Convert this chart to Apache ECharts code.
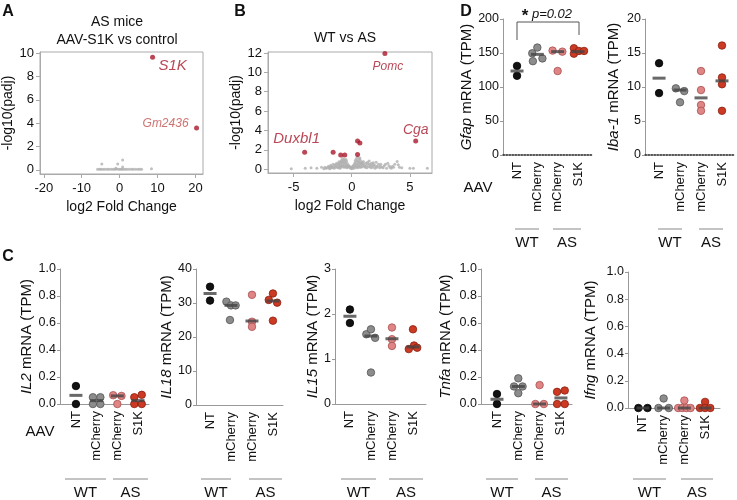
<!DOCTYPE html>
<html>
<head>
<meta charset="utf-8">
<script src="https://cdn.jsdelivr.net/npm/echarts@6/dist/echarts.min.js"></script>
<style>html,body{margin:0;background:#fff}#main{width:737px;height:500px}</style>
</head>
<body>
<div id="main"></div>
<script>
// ---- volcano A : AS mice, AAV-S1K vs control ----
const aHits = [[8.7, 9.66, 'S1K'], [20.3, 3.6, 'Gm2436']];
const aGray = [[-5.8,0.05],[-5.3,0.06],[-4.9,0.05],[-4.4,0.05],[-3.9,0.06],[-3.3,0.05],[-2.8,0.05],[-2.2,0.06],[-1.7,0.05],
  [-1.2,0.05],[-0.8,0.07],[-0.3,0.05],[0.1,0.06],[0.5,0.05],[0.9,0.06],[1.4,0.05],[1.9,0.05],[2.5,0.06],[3.1,0.05],
  [3.6,0.05],[4.2,0.06],[4.8,0.05],[5.3,0.05],[5.8,0.06],[-4.7,0.5],[-0.5,0.5],[0.8,0.85],[0.8,0.25],[-1.0,0.15],[8.4,0.1]];

// ---- volcano B : WT vs AS ----
const bHits = [[2.85, 11.95, 'Pomc'], [5.5, 2.9, 'Cga'], [-4.05, 1.75, 'Duxbl1'], [-1.6, 1.75, ''], [-0.95, 1.45, ''],
  [-0.6, 1.45, ''], [0.5, 1.5, ''], [0.5, 2.9, ''], [0.7, 2.7, '']];
const bGray = [[-5.2,0.05],[-4.0,0.1],[-3.5,0.15],[-3.0,0.1],[-2.6,0.2],[-2.2,0.1],[-2.0,0.3],[-1.9,0.05],[-1.8,0.4],
  [-1.7,0.2],[-1.6,0.5],[-1.5,0.1],[-1.4,0.35],[-1.3,0.6],[-1.2,0.2],[-1.1,0.75],[-1.0,0.45],[-1.0,0.1],[-0.9,0.9],
  [-0.9,0.3],[-0.8,1.1],[-0.8,0.6],[-0.7,0.2],[-0.7,0.95],[-0.6,0.5],[-0.6,0.8],[-0.5,0.3],[-0.5,1.0],[-0.4,0.6],
  [-0.4,0.15],[-0.3,0.4],[-0.2,0.2],[-0.1,0.1],[0.0,0.05],[0.1,0.15],[0.2,0.3],[0.25,0.6],[0.3,0.9],[0.35,0.2],
  [0.4,1.1],[0.45,0.5],[0.5,1.25],[0.55,0.8],[0.6,0.3],[0.65,1.05],[0.7,0.6],[0.75,0.9],[0.8,0.2],[0.85,0.7],
  [0.9,0.45],[1.0,0.8],[1.1,0.3],[1.2,0.6],[1.3,0.15],[1.4,0.5],[1.5,0.85],[1.6,0.3],[1.7,0.6],[1.8,0.2],[1.9,0.45],
  [2.0,0.1],[2.1,0.7],[2.2,0.3],[2.4,0.15],[2.5,0.5],[2.6,0.2],[2.8,0.35],[3.0,0.1],[3.1,0.6],[3.3,0.2],[3.5,0.3],
  [3.7,0.5],[3.9,0.8],[4.1,0.2],[4.3,0.15],[5.0,0.1],[5.3,0.1],[6.5,0.1],
  [-2.4,0.05],[-2.3,0.2],[-2.1,0.15],[-1.95,0.2],[-1.85,0.1],[-1.75,0.3],[-1.65,0.15],[-1.55,0.25],[-1.45,0.45],
  [-1.35,0.2],[-1.25,0.4],[-1.15,0.5],[-1.15,0.15],[-1.05,0.3],[-1.05,0.6],[-0.95,0.2],[-0.95,0.7],[-0.85,0.4],
  [-0.85,0.8],[-0.75,0.35],[-0.75,0.7],[-0.65,0.3],[-0.65,1.0],[-0.55,0.2],[-0.55,0.65],[-0.45,0.4],[-0.45,0.85],
  [-0.35,0.25],[-0.25,0.35],[-0.15,0.25],[-0.05,0.2],[0.05,0.25],[0.15,0.4],[0.2,0.1],[0.3,0.45],[0.35,0.7],[0.4,0.3],
  [0.45,0.9],[0.5,0.15],[0.55,0.45],[0.6,0.7],[0.65,0.2],[0.7,1.15],[0.75,0.4],[0.8,0.6],[0.9,0.25],[0.95,0.6],
  [1.05,0.45],[1.15,0.2],[1.25,0.35],[1.35,0.7],[1.45,0.25],[1.55,0.5],[1.65,0.15],[1.75,0.4],[1.85,0.65],[2.0,0.35],
  [2.15,0.2],[2.3,0.5],[2.45,0.3],[2.7,0.15],[2.9,0.5],[3.2,0.35],[3.4,0.1],[3.6,0.2],[4.0,0.45]];

// ---- TPM dot plots (groups: WT NT, WT mCherry, AS mCherry, AS S1K) ----
const aavGroups = ['NT', 'mCherry', 'mCherry', 'S1K'];

const gfapTPM = [[131, 116.5], [158, 149.5, 142, 138], [153.5, 152, 123.5], [157, 149, 153, 153]];
const gfapMid = [123.5, 148, 152, 152];
const gfapJit = [[0, 0], [0, -0.25, 0.25, -0.22], [-0.25, 0.23, 0], [-0.2, -0.2, 0.05, 0.3]];

const iba1TPM = [[13.5, 9.1], [9.8, 9.4, 7.75], [12.35, 9.55, 7.35, 6.5], [16.1, 11.4, 10.4, 6.5]];
const iba1Mid = [11.3, 9.55, 8.4, 10.9];
const iba1Jit = [[0, 0], [-0.2, 0.2, 0], [0, 0, 0, 0], [0, 0, 0, 0]];

const il2TPM = [[0.133, 0], [0.05, 0.05, 0, 0], [0.065, 0.06, 0], [0.05, 0.068, 0, 0]];
const il2Mid = [0.064, 0.025, 0.06, 0.025];
const il2Jit = [[0, 0], [-0.18, 0.18, -0.18, 0.18], [-0.2, 0.2, 0], [-0.18, 0.18, -0.18, 0.18]];

const il18TPM = [[34.8, 30.7], [30.4, 29.3, 29.3, 25.0], [32.4, 24.5, 23.0], [32.8, 30.9, 30.1, 24.8]];
const il18Mid = [32.8, 29.3, 24.7, 30.6];
const il18Jit = [[0, 0], [-0.22, 0, 0.22, -0.05], [0, 0, 0], [0, -0.2, 0.2, 0]];

const il15TPM = [[2.1, 1.8], [1.55, 1.66, 1.47, 0.70], [1.70, 1.44, 1.29], [1.66, 1.30, 1.22, 1.25]];
const il15Mid = [1.95, 1.51, 1.45, 1.27];
const il15Jit = [[0, 0], [-0.22, 0, 0.2, 0], [0, 0, 0], [0, 0.05, -0.2, 0.2]];

const tnfaTPM = [[0.074, 0], [0.19, 0.13, 0.13, 0.08], [0.14, 0, 0], [0.09, 0.10, 0, 0]];
const tnfaMid = [0.035, 0.13, 0, 0.045];
const tnfaJit = [[0, 0], [0, -0.2, 0.2, 0], [0, -0.2, 0.2], [-0.18, 0.18, -0.18, 0.18]];

const ifngTPM = [[0, 0], [0.07, 0, 0], [0.055, 0, 0, 0, 0], [0.045, 0, 0, 0]];
const ifngMid = [0, 0, 0, 0];
const ifngJit = [[-0.22, 0.22], [0, -0.25, 0.25], [0, -0.3, -0.1, 0.1, 0.3], [0, -0.25, 0, 0.25]];

const FONT = '"Liberation Sans", Arial, sans-serif';
const fill = ['#111111', '#8c8c8c', '#e08585', '#cc3a24'];
const edge = ['#000000', '#555555', '#a85050', '#8a2010'];
const hitRed = '#a8192c';

let grids = [], xAxes = [], yAxes = [], series = [];

// volcano plot in a box
function volcano(k, box, xr, yr, xt, yt, hits, gray, labelPos) {
  grids.push(Object.assign({show: true, borderColor: '#aaa', borderWidth: 1, outerBoundsMode: 'none'}, box));
  xAxes.push({gridIndex: k, type: 'value', min: xr[0], max: xr[1], name: 'log2 Fold Change', nameLocation: 'middle', nameGap: 26,
    nameTextStyle: {fontFamily: FONT, fontSize: 14, color: '#111'},
    axisLine: {onZero: false, lineStyle: {color: '#aaa'}}, splitLine: {show: false},
    axisTick: {customValues: xt, length: 4, lineStyle: {color: '#aaa'}},
    axisLabel: {customValues: xt, fontFamily: FONT, fontSize: 13, color: '#111', margin: 8}});
  yAxes.push({gridIndex: k, type: 'value', min: yr[0], max: yr[1], name: '-log10(padj)', nameLocation: 'middle', nameGap: 24, nameRotate: 90,
    nameTextStyle: {fontFamily: FONT, fontSize: 14, color: '#111'},
    axisLine: {onZero: false, lineStyle: {color: '#aaa'}}, splitLine: {show: false},
    axisTick: {customValues: yt, length: 4, lineStyle: {color: '#aaa'}},
    axisLabel: {customValues: yt, fontFamily: FONT, fontSize: 13, color: '#111', margin: 6}});
  series.push({type: 'scatter', xAxisIndex: k, yAxisIndex: k, symbolSize: 3, silent: true,
    itemStyle: {color: '#b0b0b0'}, data: gray});
  series.push({type: 'scatter', xAxisIndex: k, yAxisIndex: k, symbolSize: 5, itemStyle: {color: hitRed},
    data: hits.map(h => ({value: [h[0], h[1]], label: labelPos[h[2]] ? Object.assign({show: true, formatter: h[2],
      position: 'inside', fontFamily: FONT, fontStyle: 'italic'}, labelPos[h[2]]) : {show: false}}))});
}

// TPM dot panel
function dotPanel(k, p) {
  grids.push({left: p.left, top: p.top, width: p.width, height: p.height, outerBoundsMode: 'none'});
  xAxes.push({gridIndex: k, type: 'value', min: p.xMin, max: p.xMax, splitLine: {show: false}, axisTick: {show: false},
    axisLine: {onZero: false, lineStyle: p.dotted ? {color: '#222', type: 'dotted', width: 1.5} : {color: '#999'}},
    axisLabel: {customValues: [1, 2, 3, 4], formatter: v => aavGroups[v - 1], rotate: 90,
      fontFamily: FONT, fontSize: 13, color: '#111', margin: 7}});
  yAxes.push({gridIndex: k, type: 'value', min: 0, max: p.yMax, interval: p.yStep,
    name: '{i|' + p.gene + '} mRNA (TPM)', nameLocation: 'middle', nameGap: p.nameGap, nameRotate: 90,
    nameTextStyle: {fontFamily: FONT, fontSize: 15, color: '#111',
      rich: {i: {fontFamily: FONT, fontSize: 15, fontStyle: 'italic', color: '#111'}}},
    axisLine: {show: true, lineStyle: {color: '#999'}}, axisTick: {show: true, length: 3, lineStyle: {color: '#999'}},
    splitLine: {show: false},
    axisLabel: {fontFamily: FONT, fontSize: 12.5, color: '#111', margin: 4, formatter: v => v.toFixed(p.dec)}});
  p.values.forEach((vals, g) => series.push({type: 'scatter', xAxisIndex: k, yAxisIndex: k, symbolSize: 7.5,
    itemStyle: {color: fill[g], borderColor: edge[g], borderWidth: 0.8, opacity: 1},
    data: vals.map((v, i) => [g + 1 + p.jit[g][i], v])}));
  series.push({type: 'scatter', xAxisIndex: k, yAxisIndex: k, symbol: 'rect', symbolSize: [13, 3], z: 3,
    itemStyle: {color: '#444'}, data: p.mid.map((v, g) => [g + 1, v])});
}

volcano(0, {left: 40, top: 52, width: 163, height: 122}, [-21, 22], [-0.35, 10.1], [-20, -10, 0, 10, 20], [0, 2, 4, 6, 8, 10],
  aHits, aGray, {
    'S1K': {offset: [20, 9], fontSize: 15, color: hitRed},
    'Gm2436': {offset: [-31, -4], fontSize: 12, color: '#c0504d'}
  });
volcano(1, {left: 268, top: 52, width: 164, height: 121}, [-7.2, 6.9], [-0.4, 12.1], [-5, 0, 5], [0, 2, 4, 6, 8, 10, 12],
  bHits, bGray, {
    'Pomc': {offset: [3, 13], fontSize: 12, color: hitRed},
    'Cga': {offset: [0, -11], fontSize: 14, color: hitRed},
    'Duxbl1': {offset: [-8, -13], fontSize: 15, color: hitRed}
  });

dotPanel(2, {gene: 'Gfap', values: gfapTPM, mid: gfapMid, jit: gfapJit, left: 503, top: 19, width: 90, height: 136,
  xMin: 0.31, xMax: 4.74, yMax: 200, yStep: 50, dec: 0, nameGap: 29, dotted: true});
dotPanel(3, {gene: 'Iba-1', values: iba1TPM, mid: iba1Mid, jit: iba1Jit, left: 645, top: 19, width: 90, height: 136,
  xMin: 0.33, xMax: 4.62, yMax: 20, yStep: 5, dec: 0, nameGap: 24, dotted: true});
dotPanel(4, {gene: 'IL2', values: il2TPM, mid: il2Mid, jit: il2Jit, left: 60, top: 269, width: 89, height: 135,
  xMin: 0.23, xMax: 4.53, yMax: 1, yStep: 0.2, dec: 1, nameGap: 25});
dotPanel(5, {gene: 'IL18', values: il18TPM, mid: il18Mid, jit: il18Jit, left: 196, top: 269, width: 87, height: 136,
  xMin: 0.33, xMax: 4.48, yMax: 40, yStep: 10, dec: 0, nameGap: 18});
dotPanel(6, {gene: 'IL15', values: il15TPM, mid: il15Mid, jit: il15Jit, left: 335, top: 269, width: 91, height: 135,
  xMin: 0.29, xMax: 4.62, yMax: 3, yStep: 1, dec: 0, nameGap: 14});
dotPanel(7, {gene: 'Tnfa', values: tnfaTPM, mid: tnfaMid, jit: tnfaJit, left: 481, top: 269, width: 91, height: 135,
  xMin: 0.25, xMax: 4.52, yMax: 1, yStep: 0.2, dec: 1, nameGap: 28});
dotPanel(8, {gene: 'Ifng', values: ifngTPM, mid: ifngMid, jit: ifngJit, left: 628, top: 272, width: 92, height: 136,
  xMin: 0.28, xMax: 4.72, yMax: 1, yStep: 0.2, dec: 1, nameGap: 30});

// annotation text and group bars
function txt(x, y, s, size, extra) {
  return {type: 'text', x: x, y: y, style: Object.assign({text: s, fontFamily: FONT, fontSize: size,
    fill: '#111', align: 'center', verticalAlign: 'middle'}, extra || {})};
}
function bar(x1, x2, y) {
  return {type: 'line', shape: {x1: x1, y1: y, x2: x2, y2: y}, style: {stroke: '#888', lineWidth: 1}};
}
const groupBars = [
  [515, 539, 553, 581, 229], [658, 682, 699, 723, 229],
  [65, 106, 113, 148, 479], [201, 231, 249, 282, 479], [341, 376, 389, 423, 479],
  [486, 518, 535, 568, 479], [633, 666, 681, 713, 479]
];
let graphics = [
  txt(8, 12, 'A', 16, {fontWeight: 'bold'}),
  txt(240, 12, 'B', 16, {fontWeight: 'bold'}),
  txt(8, 257, 'C', 16, {fontWeight: 'bold'}),
  txt(466, 12, 'D', 16, {fontWeight: 'bold'}),
  txt(117, 22, 'AS mice', 14),
  txt(117, 40, 'AAV-S1K vs control', 14),
  txt(345, 38, 'WT vs AS', 14),
  txt(478, 188, 'AAV', 15),
  txt(40, 432, 'AAV', 15),
  txt(525, 16, '*', 17, {fontWeight: 'bold'}),
  txt(552, 14, 'p=0.02', 13, {fontStyle: 'italic'}),
  {type: 'polyline', shape: {points: [[517, 40], [517, 22], [579, 22], [579, 35]]}, style: {stroke: '#555', lineWidth: 1, fill: null}}
];
groupBars.forEach(g => {
  graphics.push(bar(g[0], g[1], g[4]), bar(g[2], g[3], g[4]));
  graphics.push(txt((g[0] + g[1]) / 2, g[4] + 14, 'WT', 15), txt((g[2] + g[3]) / 2, g[4] + 14, 'AS', 15));
});

const chart = echarts.init(document.getElementById('main'), null, {renderer: 'canvas'});
chart.setOption({
  backgroundColor: '#fff',
  animation: false,
  textStyle: {fontFamily: FONT},
  grid: grids,
  xAxis: xAxes,
  yAxis: yAxes,
  series: series,
  graphic: graphics
});
</script>
</body>
</html>
